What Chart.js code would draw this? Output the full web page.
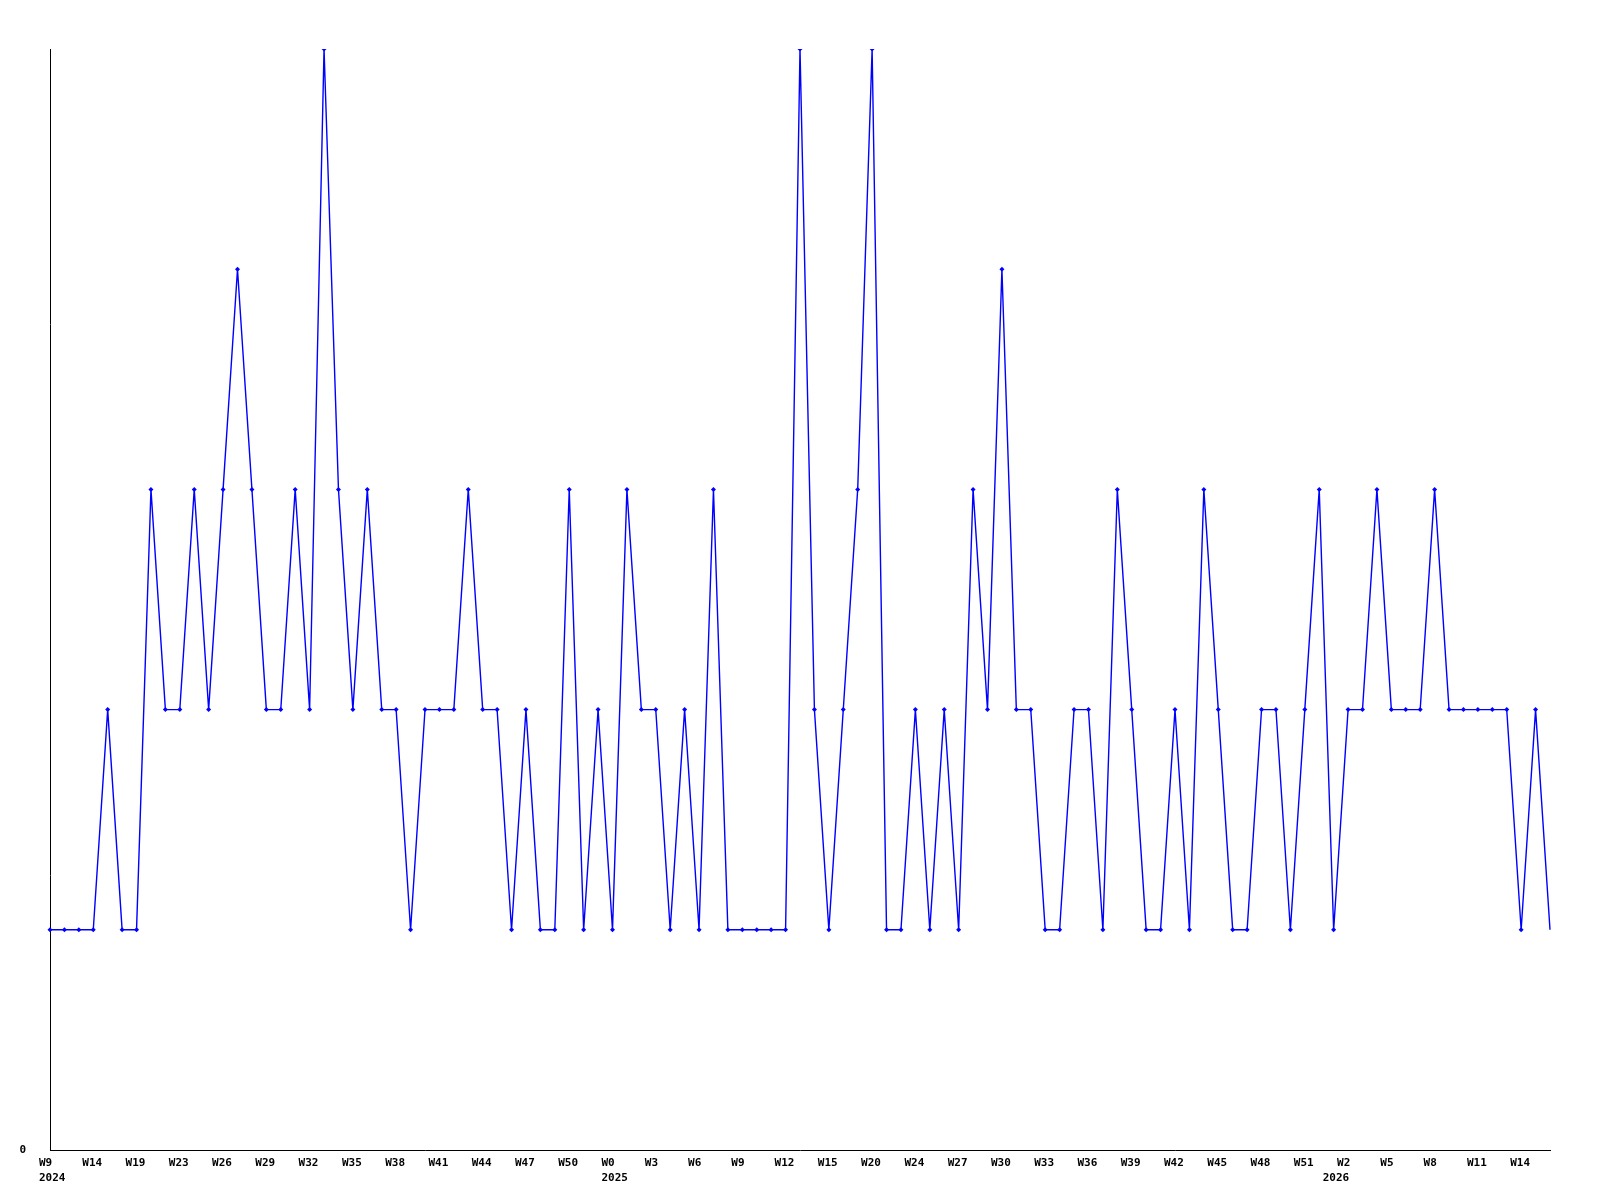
<!DOCTYPE html>
<html><head><meta charset="utf-8">
<script src="https://cdn.jsdelivr.net/npm/chart.js@4.4.0/dist/chart.umd.min.js"></script>
<style>html,body{margin:0;padding:0;background:#fff;}#wrap{width:1600px;height:1200px;}</style>
</head><body><div id="wrap"><canvas id="c" width="1600" height="1200"></canvas></div>
<script>
// weekly counts, one per point (105 points)
const values = [
  1,1,1,1,2,1,1,3,2,2,
  3,2,3,4,3,2,2,3,2,5,
  3,2,3,2,2,1,2,2,2,3,
  2,2,1,2,1,1,3,1,2,1,
  3,2,2,1,2,1,3,1,1,1,
  1,1,5,2,1,2,3,5,1,1,
  2,1,2,1,3,2,4,2,2,1,
  1,2,2,1,3,2,1,1,2,1,
  3,2,1,1,2,2,1,2,3,1,
  2,2,3,2,2,2,3,2,2,2,
  2,2,1,2,1
];
// x tick labels, shown on every third point
const tickLabels = [
  "W9","W14","W19","W23","W26","W29","W32","W35","W38","W41","W44","W47",
  "W50","W0","W3","W6","W9","W12","W15","W20","W24","W27","W30","W33",
  "W36","W39","W42","W45","W48","W51","W2","W5","W8","W11","W14"
];
const tickEvery = 3;
// year labels and the point where each year starts
const yearLabels = ["2024","2025","2026"];
const yearPointIndex = [0,39,89];
const yTickValues = [0];
const yMax = 5;

const labels = values.map((v,i) => {
  const t = (i % tickEvery === 0 && tickLabels[i / tickEvery] !== undefined) ? tickLabels[i / tickEvery] : "";
  const yi = yearPointIndex.indexOf(i);
  return yi >= 0 ? [t, yearLabels[yi]] : t;
});

const tickFont = {family: "'DejaVu Sans Mono', monospace", size: 11, weight: 'bold', lineHeight: 1.4};

new Chart(document.getElementById('c'), {
  type: 'line',
  data: {
    labels: labels,
    datasets: [{
      data: values,
      borderColor: '#0000ff',
      backgroundColor: '#0000ff',
      borderWidth: 1.4,
      tension: 0,
      fill: false,
      pointStyle: 'rectRot',
      pointRadius: (ctx) => ctx.dataIndex === values.length - 1 ? 0 : 2.5,
      pointBorderWidth: 0,
      pointBackgroundColor: '#0000ff'
    }]
  },
  options: {
    responsive: false,
    animation: false,
    devicePixelRatio: 1,
    layout: {padding: {top: 49, right: 50, left: 0, bottom: 0}},
    plugins: {legend: {display: false}, tooltip: {enabled: false}, title: {display: false}},
    scales: {
      x: {
        type: 'category',
        offset: false,
        grid: {display: false, drawTicks: false},
        border: {display: true, color: '#000', width: 1},
        ticks: {
          autoSkip: false,
          maxRotation: 0,
          minRotation: 0,
          align: 'start',
          labelOffset: -11,
          padding: 5,
          color: '#000',
          font: tickFont
        },
        afterFit: (s) => { s.height = 50; }
      },
      y: {
        min: 0,
        max: yMax,
        grid: {display: false, drawTicks: false},
        border: {display: true, color: '#000', width: 1},
        afterBuildTicks: (s) => { s.ticks = yTickValues.map(v => ({value: v})); },
        ticks: {
          color: '#000',
          padding: 24,
          font: tickFont,
          callback: (v) => String(v)
        },
        afterFit: (s) => { s.width = 50; }
      }
    }
  }
});
</script>
</body></html>
